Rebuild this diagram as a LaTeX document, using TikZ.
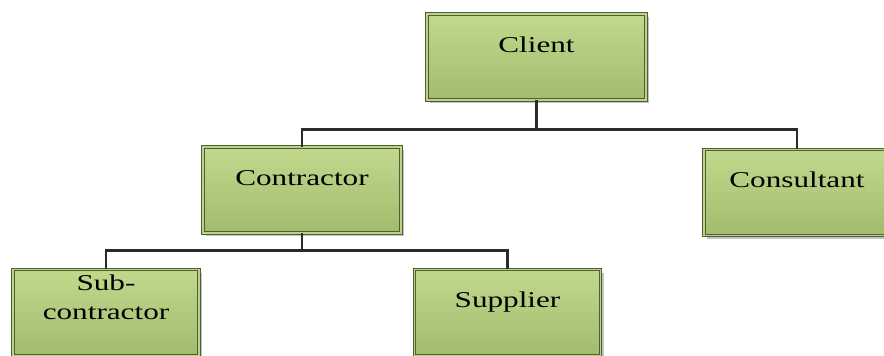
\documentclass[tikz,border=0pt]{standalone}
\usepackage{fontspec}
\usetikzlibrary{shadows}
\newfontfamily\boxfont[FakeStretch=1.38]{Liberation Serif}
\definecolor{ctop}{HTML}{C0D98D}
\definecolor{cbottom}{HTML}{A2BC6E}
\definecolor{cedge}{HTML}{4F5E36}
\definecolor{cline}{HTML}{2B2B2B}
\tikzset{
  every picture/.style={x=1pt, y=-1pt},
  box/.style={rectangle, draw=cedge, line width=0.9pt, double=ctop!80!cbottom, double distance=1.8pt,
    top color=ctop, bottom color=cbottom, inner sep=0pt,
    minimum width=186pt, minimum height=86pt, text height=16pt, text depth=26pt,
    font=\boxfont\fontsize{22.6}{29}\selectfont, align=center,
    drop shadow={shadow xshift=3pt, shadow yshift=-3pt, fill=black!40, opacity=.6}},
  link/.style={draw=cline, line width=2.2pt},
}

\begin{document}
\begin{tikzpicture}
  \useasboundingbox (0,0) rectangle (884,356);

  \node[box, minimum width=219pt] (client) at (536.5,57) {Client};
  \node[box, minimum width=198pt] (contractor) at (302,190) {Contractor};
  \node[box] (consultant) at (797,192.5) {Consultant};
  \node[box, text height=45pt, text depth=31pt] (sub) at (106,312.5) {Sub-\\contractor};
  \node[box] (supplier) at (507.5,312.5) {Supplier};

  \draw[link] (client.south) -- ++(0,29) -| (contractor.north);
  \draw[link] (client.south) -- ++(0,29) -| (consultant.north);
  \draw[link] (contractor.south) -- ++(0,17) -| (sub.north);
  \draw[link] (contractor.south) -- ++(0,17) -| (supplier.north);
\end{tikzpicture}
\end{document}
